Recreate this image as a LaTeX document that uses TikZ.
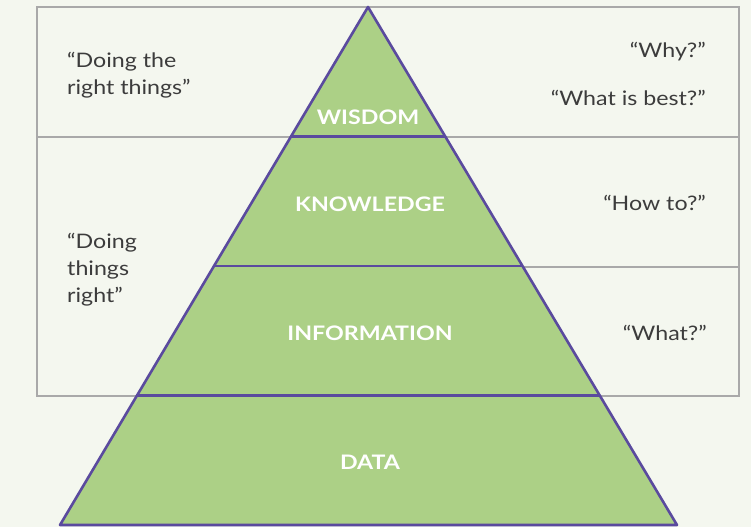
\documentclass[tikz,border=0pt]{standalone}
\usepackage{fontspec}
\setmainfont{Lato}[FakeStretch=1.16]
\usepackage{tikz}
\usetikzlibrary{calc}
\usepackage{xcolor}
\definecolor{paper}{HTML}{F4F7EF}
\definecolor{leaf}{HTML}{ACD086}
\definecolor{edge}{HTML}{5A4A9E}
\definecolor{rule}{HTML}{A9A9A9}
\definecolor{ink}{HTML}{3C3C3C}

\begin{document}
\begin{tikzpicture}[
  x=1pt, y=-1pt,
  frame/.style={draw=rule, line width=1.6pt},
  tier/.style={draw=edge, line width=2.6pt}
  ]
  \tikzset{level/.style={font=\fontsize{20}{24}\selectfont\bfseries, text=white, inner sep=0pt}}
  \tikzstyle{quote}=[font=\fontsize{20}{27}\selectfont, text=ink, inner sep=0pt, align=left]
  \fill[paper] (0,0) rectangle (751,527);
  \useasboundingbox (0,0) rectangle (751,527);
  % rows behind the pyramid (the lower split only on the right)
  \draw[frame] (37,7) rectangle (739,396);
  \draw[frame] (37,137) -- (739,137) (368,267) -- (739,267);
  % pyramid
  \coordinate (apex) at (368,7);
  \coordinate (baseL) at (60,525);
  \coordinate (baseR) at (677,525);
  \fill[leaf] (apex) -- (baseL) -- (baseR) -- cycle;
  \foreach \t in {0.25,0.5,0.75}
    \draw[tier] ($(apex)!\t!(baseL)$) -- ($(apex)!\t!(baseR)$);
  \draw[tier, line join=round] (apex) -- (baseL) -- (baseR) -- cycle;
  \node[level] (wisdom) at (368,117) {WISDOM};
  \node[level] (knowledge) at (370,204) {KNOWLEDGE};
  \node[level] (information) at (370,333) {INFORMATION};
  \node[level] (data) at (370,462) {DATA};
  % left side
  \node[quote, anchor=north west] (rightthings) at (67,52) {“Doing the\\right things”};
  \node[quote, anchor=north west] (thingsright) at (67,233) {“Doing\\things\\right”};
  % right side
  \node[quote, anchor=base east] (why) at (706,57) {“Why?”};
  \node[quote, anchor=base east] (best) at (706,105) {“What is best?”};
  \node[quote, anchor=base east] (howto) at (706,210) {“How to?”};
  \node[quote, anchor=base east] (what) at (707,340) {“What?”};
\end{tikzpicture}
\end{document}
